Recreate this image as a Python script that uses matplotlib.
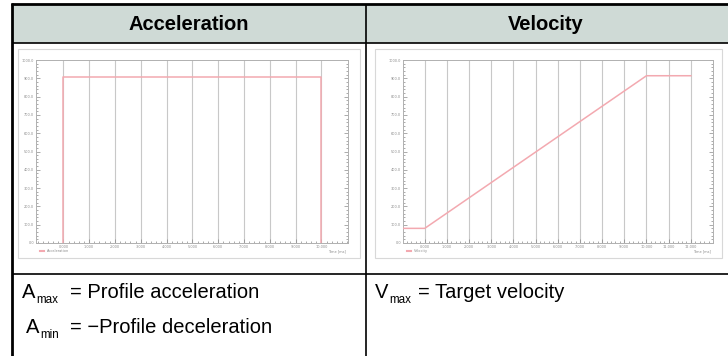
import matplotlib
matplotlib.use("Agg")
import matplotlib.pyplot as plt
from matplotlib.lines import Line2D
from matplotlib.patches import Rectangle
from matplotlib.ticker import AutoMinorLocator

# ---------------------------
# Data
# ---------------------------
headers = ["Acceleration", "Velocity"]

# acceleration profile: time [ms] vs acceleration
acc_time = [0, 0, 10000, 10000]
acc_value = [0, 905, 905, 0]
acc_xticks = [0, 1000, 2000, 3000, 4000, 5000, 6000, 7000, 8000, 9000, 10000]

# velocity profile: time [ms] vs velocity
vel_time = [-980, 0, 10000, 12000]
vel_value = [80, 80, 914, 914]
vel_xticks = [0, 1000, 2000, 3000, 4000, 5000, 6000, 7000, 8000, 9000, 10000, 11000, 12000]

y_ticks = [0, 100, 200, 300, 400, 500, 600, 700, 800, 900, 1000]

# ---------------------------
# Figure setup
# ---------------------------
W, H = 728, 356
fig = plt.figure(figsize=(W / 100, H / 100), dpi=100)
body_font, body_size = "Liberation Sans", 14.5
line_color = "#f3a9b0"


def px(x, y):
    return x / W, 1 - y / H


def hline(x0, x1, y, lw=1.2):
    fig.add_artist(Line2D([x0 / W, x1 / W], [1 - y / H, 1 - y / H], color="black", lw=lw,
                          solid_capstyle="butt", transform=fig.transFigure))


def vline(x, y0, y1, lw=1.2):
    fig.add_artist(Line2D([x / W, x / W], [1 - y0 / H, 1 - y1 / H], color="black", lw=lw,
                          solid_capstyle="butt", transform=fig.transFigure))


# header fill
fig.add_artist(Rectangle(px(12, 43), 716 / W, 39 / H, transform=fig.transFigure,
                         facecolor="#cfdad6", edgecolor="none", zorder=0))

# table lines
hline(11, 728, 4, lw=2)
hline(12, 728, 43)
hline(12, 728, 274)
vline(12, 3, 356, lw=2)
vline(366, 4, 356)

for name, cx in zip(headers, [189, 546]):
    fig.text(*px(cx, 24), name, ha="center", va="center", fontsize=14.5,
             fontweight="bold", family="Liberation Sans")

# image borders behind the plots
for x0, x1 in [(18, 360), (375, 722)]:
    fig.add_artist(Rectangle(px(x0, 258), (x1 - x0) / W, 209 / H, transform=fig.transFigure,
                             facecolor="white", edgecolor="#d8d8d8", lw=0.8, zorder=0))


def profile_axes(left, right, t, v, xticks, xlim, label):
    ax = fig.add_axes([left / W, 1 - 243 / H, (right - left) / W, 183 / H])
    ax.plot(t, v, color=line_color, lw=1.1, zorder=3)
    ax.set_xlim(*xlim)
    ax.set_ylim(0, 1000)
    ax.set_xticks(xticks)
    ax.set_xticklabels(["{:,.3f}".format(x / 1000) for x in xticks])
    ax.set_yticks(y_ticks)
    ax.set_yticklabels(["{:.1f}".format(y) for y in y_ticks])
    ax.xaxis.set_minor_locator(AutoMinorLocator(5))
    ax.yaxis.set_minor_locator(AutoMinorLocator(5))
    ax.grid(axis="x", color="#c8c8c8", lw=0.8)
    ax.tick_params(which="both", direction="in", top=False, right=True, color="#8a8a8a",
                   labelsize=2.5, labelcolor="#8a8a8a", pad=1.5, width=0.5)
    ax.tick_params(which="major", length=3)
    ax.tick_params(which="minor", length=1.5)
    for s in ax.spines.values():
        s.set_color("#b0b0b0")
        s.set_linewidth(0.7)
    ax.set_facecolor("white")
    # legend and axis name under the frame
    fig.add_artist(Line2D([(left + 4) / W, (left + 8) / W], [1 - 251 / H] * 2, color=line_color,
                          lw=1.5, transform=fig.transFigure))
    fig.text((left + 11) / W, 1 - 251 / H, label, fontsize=2.5, color="#8a8a8a", va="center")
    fig.text((right - 2) / W, 1 - 251 / H, "Time [ms]", fontsize=2.5, color="#8a8a8a",
             va="center", ha="right")
    return ax


profile_axes(36, 348, acc_time, acc_value, acc_xticks, (-1060, 11030), "Acceleration")
profile_axes(403, 713, vel_time, vel_value, vel_xticks, (-980, 13000), "Velocity")

# ---------------------------
# Symbol definitions
# ---------------------------
sub_size = body_size * 0.58
rows = [
    (22, 298, "A", "max", 70, "= Profile acceleration"),
    (26, 333, "A", "min", 70, "= \u2212Profile deceleration"),
    (375, 298, "V", "max", 418, "= Target velocity"),
]
for x, y, sym, sub, xd, desc in rows:
    fig.text(*px(x, y), sym, fontsize=body_size, family=body_font, va="baseline")
    fig.text(*px(x + 14, y + 5), sub, fontsize=sub_size, family=body_font, va="baseline")
    fig.text(*px(xd, y), desc, fontsize=body_size, family=body_font, va="baseline")

fig.savefig("out.png", dpi=100)
